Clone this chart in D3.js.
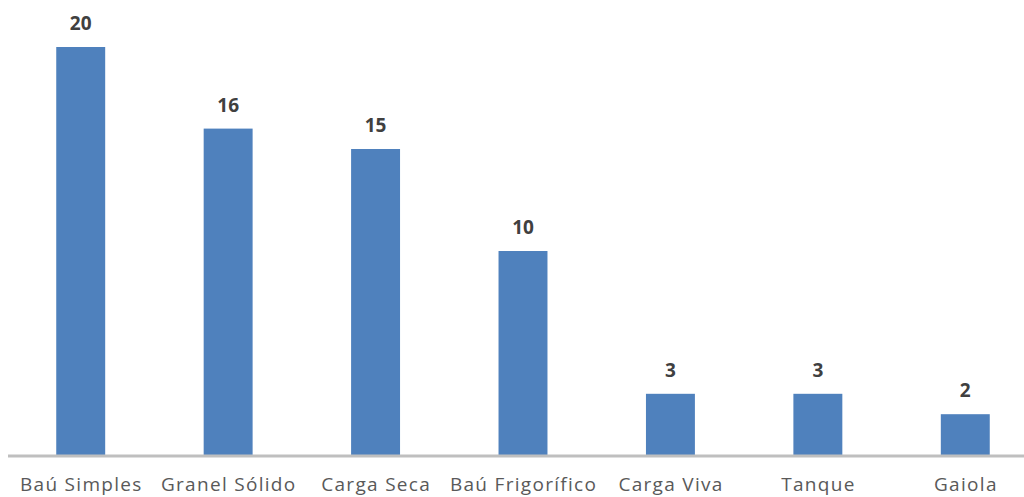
<!DOCTYPE html>
<html>
<head>
<meta charset="utf-8">
<script src="https://cdn.jsdelivr.net/npm/d3@7"></script>
<style>
  body { margin: 0; background: #fff; }
  svg { display: block; }
</style>
</head>
<body>
<div id="chart"></div>
<script>
const categories = ["Baú Simples", "Granel Sólido", "Carga Seca", "Baú Frigorífico", "Carga Viva", "Tanque", "Gaiola"];
const values = [20, 16, 15, 10, 3, 3, 2];

const width = 1024, height = 497;

const svg = d3.select("#chart").append("svg")
    .attr("width", width)
    .attr("height", height);

// band step ~147.4px, bars ~49px wide
const x = d3.scaleBand()
    .domain(categories)
    .range([7, 1039])
    .paddingInner(0.668)
    .paddingOuter(0.334);

const y = d3.scaleLinear()
    .domain([0, 20])
    .range([455, 47]);

// bars
svg.append("g").selectAll("rect")
  .data(values)
  .enter().append("rect")
    .attr("x", (d, i) => x(categories[i]))
    .attr("y", d => y(d))
    .attr("width", x.bandwidth())
    .attr("height", d => y(0) - y(d))
    .attr("fill", "#4f81bd");

// baseline
svg.append("line")
    .attr("x1", 8).attr("x2", width)
    .attr("y1", y(0) + 1).attr("y2", y(0) + 1)
    .attr("stroke", "#bfbfbf")
    .attr("stroke-width", 3);

// value labels
svg.append("g").selectAll("text")
  .data(values)
  .enter().append("text")
    .attr("x", (d, i) => x(categories[i]) + x.bandwidth() / 2)
    .attr("y", d => y(d) - 17)
    .attr("text-anchor", "middle")
    .style("font-family", "'Open Sans', sans-serif")
    .style("font-weight", "bold")
    .style("font-size", "19px")
    .attr("fill", "#404040")
    .text(d => d);

// category labels
svg.append("g").selectAll("text")
  .data(categories)
  .enter().append("text")
    .attr("x", d => x(d) + x.bandwidth() / 2 + 0.6)
    .attr("y", 491)
    .attr("text-anchor", "middle")
    .style("font-family", "'Open Sans', sans-serif")
    .style("font-size", "19px")
    .style("letter-spacing", "1.3px")
    .attr("fill", "#595959")
    .text(d => d);
</script>
</body>
</html>
